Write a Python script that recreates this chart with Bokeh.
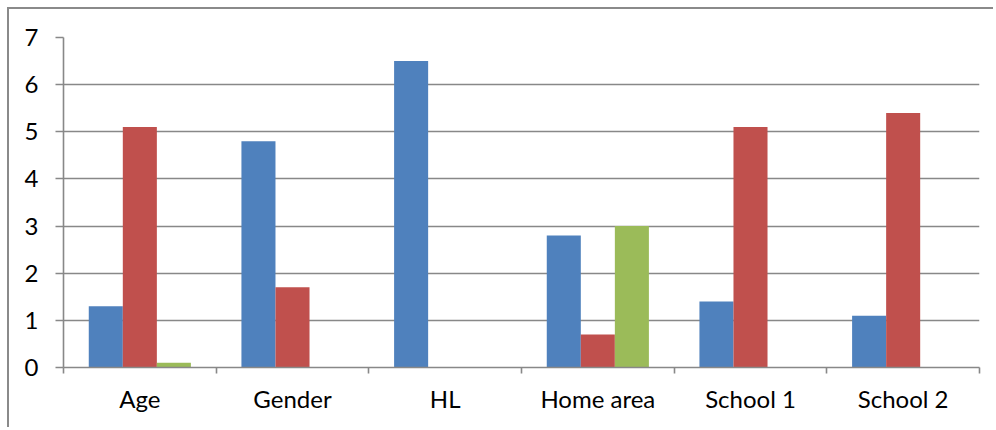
from bokeh.plotting import figure
from bokeh.models import FixedTicker, Range1d, CustomJSTickFormatter
from bokeh.embed import file_html
from bokeh.resources import INLINE

categories = ["Age", "Gender", "HL", "Home area", "School 1", "School 2"]
series1 = [1.3, 4.8, 6.5, 2.8, 1.4, 1.1]
series2 = [5.1, 1.7, 0.0, 0.7, 5.1, 5.4]
series3 = [0.1, 0.0, 0.0, 3.0, 0.0, 0.0]
colors = ["#4F81BD", "#C0504D", "#9BBB59"]
y_ticks = [0, 1, 2, 3, 4, 5, 6, 7]

FONT = "Lato"
GRID = "#888888"
bw = 0.223

p = figure(width=986, height=420, output_backend="svg", toolbar_location=None,
           x_range=Range1d(0, len(categories)), y_range=Range1d(0, 7),
           min_border_left=54, min_border_right=16, min_border_top=28, min_border_bottom=62)
p.styles = {"border-left": "2px solid #8a8a8a", "border-top": "2px solid #8a8a8a",
            "margin-left": "7px", "margin-top": "7px"}
p.outline_line_color = None

for k, vals in enumerate([series1, series2, series3]):
    xs = [i + 0.5 + (k - 1) * bw for i in range(len(categories))]
    p.vbar(x=xs, top=vals, bottom=0, width=bw, fill_color=colors[k], line_color=None)

p.xgrid.grid_line_color = None
p.ygrid.grid_line_color = GRID
p.ygrid.grid_line_width = 1.6
p.ygrid.ticker = FixedTicker(ticks=y_ticks)

xa = p.xaxis[0]
xa.ticker = FixedTicker(ticks=[i + 0.5 for i in range(len(categories))],
                        minor_ticks=list(range(len(categories) + 1)))
xa.formatter = CustomJSTickFormatter(args=dict(cats=categories),
                                     code="return cats[Math.floor(tick)];")
xa.major_tick_out = 0
xa.major_tick_in = 0
xa.minor_tick_out = 6
xa.minor_tick_in = 0
xa.minor_tick_line_color = GRID
xa.minor_tick_line_width = 1.6
xa.axis_line_color = GRID
xa.axis_line_width = 1.6
xa.major_label_text_font = FONT
xa.major_label_text_font_size = "24px"
xa.major_label_text_color = "#000000"
xa.major_label_standoff = 10

ya = p.yaxis[0]
ya.ticker = FixedTicker(ticks=y_ticks)
ya.major_tick_out = 8
ya.major_tick_in = 0
ya.minor_tick_line_color = None
ya.major_tick_line_color = GRID
ya.major_tick_line_width = 1.6
ya.axis_line_color = GRID
ya.axis_line_width = 1.6
ya.major_label_text_font = FONT
ya.major_label_text_font_size = "24px"
ya.major_label_text_color = "#000000"
ya.major_label_standoff = 17

open("out.html", "w").write(file_html(p, INLINE))
